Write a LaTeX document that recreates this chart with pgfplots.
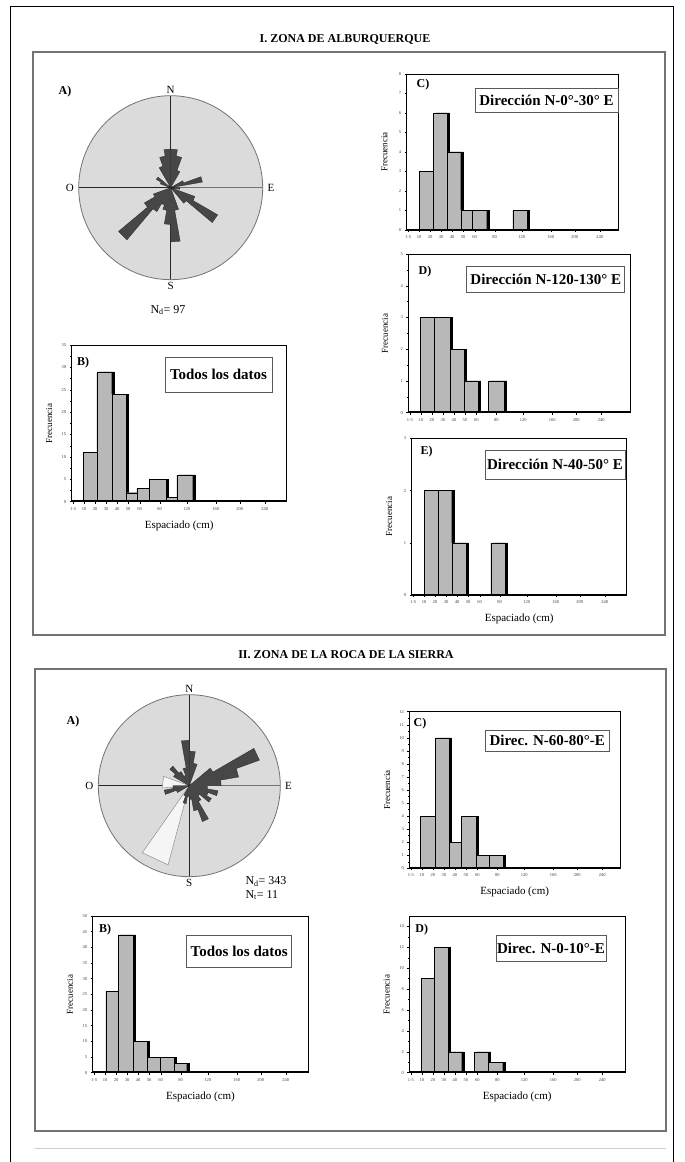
\documentclass[border=0pt]{standalone}
\usepackage{pgfplots}
\usepackage{pgfplotstable}
\pgfplotsset{compat=1.18}
\usepgfplotslibrary{polar}
\usepackage{fontspec}
\setmainfont{Liberation Serif}

% rose diagrams: azimuth (deg from N, clockwise) and relative length
\pgfplotstableread{
az r
0 0
0 0.42
10 0.42
10 0.35
20 0.35
20 0.20
30 0.20
30 0
60 0
60 0.15
70 0.15
70 0.35
80 0.35
80 0
90 0
90 0.10
100 0.10
100 0
110 0
110 0.28
120 0.28
120 0.59
130 0.59
130 0.22
140 0.22
140 0
160 0
160 0.25
170 0.25
170 0.59
180 0.59
180 0.40
190 0.40
190 0.25
200 0.25
200 0.20
210 0.20
210 0.30
220 0.30
220 0.74
230 0.74
230 0.33
240 0.33
240 0.20
250 0.20
250 0
290 0
290 0.12
300 0.12
300 0.18
310 0.18
310 0
330 0
330 0.25
340 0.25
340 0.35
350 0.35
350 0.42
360 0.42
360 0
}\roseI

\pgfplotstableread{
az r
0 0
0 0.38
10 0.38
10 0.25
20 0.25
20 0
50 0
50 0.30
60 0.30
60 0.82
70 0.82
70 0.55
80 0.55
80 0.35
90 0.35
90 0.20
100 0.20
100 0.32
110 0.32
110 0.22
120 0.22
120 0.28
130 0.28
130 0.15
140 0.15
140 0.20
150 0.20
150 0.42
160 0.42
160 0.28
170 0.28
170 0.15
180 0.15
180 0.12
190 0.12
190 0.20
200 0.20
200 0.12
210 0.12
210 0
240 0
240 0.15
250 0.15
250 0.28
260 0.28
260 0.18
270 0.18
270 0
300 0
300 0.20
310 0.20
310 0.28
320 0.28
320 0.18
330 0.18
330 0.12
340 0.12
340 0.20
350 0.20
350 0.50
360 0.50
360 0
}\roseIIdark

\pgfplotstableread{
az r
195 0
195 0.90
215 0.90
215 0
265 0
265 0.30
290 0.30
290 0
}\roseIIlight

% histograms: left edge of each bar (pt from axis left) and count
\pgfplotstableread{
x y
11.7 11
25 29
40 24
54.3 2
65 3
77.7 5
94.3 1
105 6
121 0
}\histIB

\pgfplotstableread{
x y
12.6 3
26.6 6
40.6 4
54 1
65 1
80 0
106 1
120.6 0
}\histIC

\pgfplotstableread{
x y
11.7 3
26 3
41.7 2
56 1
70 0
80 1
96 0
}\histID

\pgfplotstableread{
x y
12.3 2
26.6 2
40 1
54.3 0
79 1
93.3 0
}\histIE

\pgfplotstableread{
x y
13 26
25.6 44
40.6 10
54.6 5
67.3 5
81.6 3
94 0
}\histIIB

\pgfplotstableread{
x y
11.3 4
25.7 10
39.7 2
52.3 4
66.7 1
80 1
94 0
}\histIIC

\pgfplotstableread{
x y
11.7 9
24.7 12
39 2
52.4 0
65 2
79 1
93.4 0
}\histIID

\pgfplotsset{
  rose/.style={
    scale only axis, anchor=origin, width=#1pt, height=#1pt,
    ymin=0, ymax=1, ytick=\empty,
    xtick={0,90,180,270}, xticklabels={},
    xmajorgrids, major grid style={black!85, line width=0.5pt},
    axis line style={black!55, line width=0.8pt},
    major tick length=0pt, clip=false,
  },
  histo/.style 2 args={
    anchor=north west, scale only axis, width=#1pt, height=#2pt,
    xmin=0, xmax=#1, ymin=0,
    axis line style={black, line width=0.6pt},
    tick align=outside, xtick pos=bottom, ytick pos=left,
    major tick length=2pt, minor tick length=1.2pt, minor y tick num=1,
    tick style={black, line width=0.4pt},
    ticklabel style={font=\fontsize{4.5}{5}\selectfont, text=black!75},
    /pgf/number format/assume math mode=true,
    xtick={1.5,12.5,23.5,34.5,45.5,56.5,68,88,115,144,168,193},
    xticklabels={1-5,10,20,30,40,50,60,80,120,160,200,240},
    ylabel={Frecuencia},
    every axis y label/.style={at={(rel axis cs:-0.105,0.5)}, rotate=90,
      anchor=center, font=\fontsize{9}{10}\selectfont},
    every axis x label/.style={at={(rel axis cs:0.5,0)}, yshift=-24pt,
      anchor=center, font=\fontsize{11}{12}\selectfont},
  },
}

\newcommand{\histbars}[1]{%
  \addplot[ybar interval, fill=black, draw=black] table[x expr=\thisrow{x}+2.2, y=y] {#1};
  \addplot[ybar interval, fill=black!28, draw=black, line width=0.4pt] table[x=x, y=y] {#1};
  \draw[line width=2.4pt] (rel axis cs:0,0) -- (rel axis cs:1,0);
}

\tikzset{
  panel/.style={font=\bfseries\fontsize{12}{14}\selectfont},
  dirbox/.style={draw=black!65, line width=0.8pt, fill=white, inner sep=1pt,
    font=\bfseries\fontsize{15}{17}\selectfont},
  wind/.style={font=\fontsize{11}{12}\selectfont, inner sep=2pt},
}

\begin{document}
\begin{tikzpicture}
\path[use as bounding box] (0pt,0pt) rectangle (685pt,1162pt);

% page border and section frames
\draw[black, line width=0.8pt] (10.5pt,0pt) -- (10.5pt,1156pt) -- (673pt,1156pt) -- (673pt,0pt);
\draw[black!55, line width=1.2pt] (33pt,527pt) rectangle (665pt,1110pt);
\draw[black!55, line width=1.2pt] (35pt,31pt) rectangle (666pt,493pt);
\draw[black!20, line width=0.6pt] (35pt,14pt) -- (666pt,14pt);
\node[font=\bfseries\fontsize{12}{14}\selectfont] at (345pt,1122pt) {I. ZONA DE ALBURQUERQUE};
\node[font=\bfseries\fontsize{12}{14}\selectfont] at (346pt,507pt) {II. ZONA DE LA ROCA DE LA SIERRA};

% ---------------- I. Alburquerque ----------------
\fill[black!14] (170.7pt,974.3pt) circle (92pt);
\begin{polaraxis}[rose=184, at={(170.7pt,974.3pt)}]
  \addplot[fill=black!72, draw=black!85, line width=0.3pt]
    table[x expr=90-\thisrow{az}, y=r] {\roseI};
  \node[wind, anchor=south] at (axis cs:90,1.0) {N};
  \node[wind, anchor=north] at (axis cs:270,1.0) {S};
  \node[wind, anchor=east] at (axis cs:180,1.03) {O};
  \node[wind, anchor=west] at (axis cs:0,1.03) {E};
\end{polaraxis}
\node[panel] at (65pt,1070.3pt) {A)};
\node[font=\fontsize{12}{14}\selectfont] at (168pt,852pt) {N\textsubscript{d}= 97};

\begin{axis}[histo={215}{156.7}, at={(71.7pt,817pt)}, ymax=35, ytick={0,5,...,35},
  xlabel={Espaciado (cm)}]
  \histbars{\histIB}
\end{axis}
\node[panel] at (83pt,799pt) {B)};
\node[dirbox, minimum width=107pt, minimum height=35pt] at (218.5pt,787.5pt) {Todos los datos};

\begin{axis}[histo={211.6}{156}, at={(406.7pt,1088pt)}, ymax=8, ytick distance=1]
  \histbars{\histIC}
\end{axis}
\node[panel] at (423pt,1077pt) {C)};
\node[dirbox, minimum width=143pt, minimum height=24pt] at (546.5pt,1062pt) {Dirección N-0°-30° E};

\begin{axis}[histo={221.7}{158.7}, at={(408.3pt,908pt)}, ymax=5, ytick distance=1]
  \histbars{\histID}
\end{axis}
\node[panel] at (425pt,890pt) {D)};
\node[dirbox, minimum width=158pt, minimum height=26.7pt] at (545.8pt,882.7pt) {Dirección N-120-130° E};

\begin{axis}[histo={215}{156.7}, at={(411.7pt,723.7pt)}, ymax=3, ytick distance=1,
  xlabel={Espaciado (cm)}]
  \histbars{\histIE}
\end{axis}
\node[panel] at (426.7pt,710.3pt) {E)};
\node[dirbox, minimum width=140pt, minimum height=29.3pt] at (555pt,697.3pt) {Dirección N-40-50° E};

% ---------------- II. La Roca de la Sierra ----------------
\fill[black!14] (189.3pt,376.3pt) circle (91pt);
\begin{polaraxis}[rose=182, at={(189.3pt,376.3pt)}]
  \addplot[fill=black!4, draw=black!50, line width=0.4pt]
    table[x expr=90-\thisrow{az}, y=r] {\roseIIlight};
  \addplot[fill=black!72, draw=black!85, line width=0.3pt]
    table[x expr=90-\thisrow{az}, y=r] {\roseIIdark};
  \node[wind, anchor=south] at (axis cs:90,1.0) {N};
  \node[wind, anchor=north] at (axis cs:270,1.0) {S};
  \node[wind, anchor=east] at (axis cs:180,1.03) {O};
  \node[wind, anchor=west] at (axis cs:0,1.03) {E};
\end{polaraxis}
\node[panel] at (73pt,440.3pt) {A)};
\node[anchor=west, font=\fontsize{12}{14}\selectfont] at (242pt,280.3pt) {N\textsubscript{d}= 343};
\node[anchor=west, font=\fontsize{12}{14}\selectfont] at (242pt,267pt) {N\textsubscript{t}= 11};

\begin{axis}[histo={215.6}{156.7}, at={(92.7pt,246pt)}, ymax=50, ytick={0,5,...,50},
  xlabel={Espaciado (cm)}]
  \histbars{\histIIB}
\end{axis}
\node[panel] at (105pt,232pt) {B)};
\node[dirbox, minimum width=105pt, minimum height=32.3pt] at (239.2pt,210.8pt) {Todos los datos};

\begin{axis}[histo={210.7}{156.6}, at={(409.3pt,450.3pt)}, ymax=12, ytick distance=1,
  xlabel={Espaciado (cm)}]
  \histbars{\histIIC}
\end{axis}
\node[panel] at (420pt,438.7pt) {C)};
\node[dirbox, minimum width=124.3pt, minimum height=21.7pt] at (547.2pt,421.2pt) {Direc. N-60-80°-E};

\begin{axis}[histo={215.7}{156.7}, at={(409.3pt,246pt)}, ymax=15, ytick={0,2,...,14},
  xlabel={Espaciado (cm)}]
  \histbars{\histIID}
\end{axis}
\node[panel] at (421.7pt,232pt) {D)};
\node[dirbox, minimum width=110pt, minimum height=26.7pt] at (551pt,213.7pt) {Direc. N-0-10°-E};

\end{tikzpicture}
\end{document}
